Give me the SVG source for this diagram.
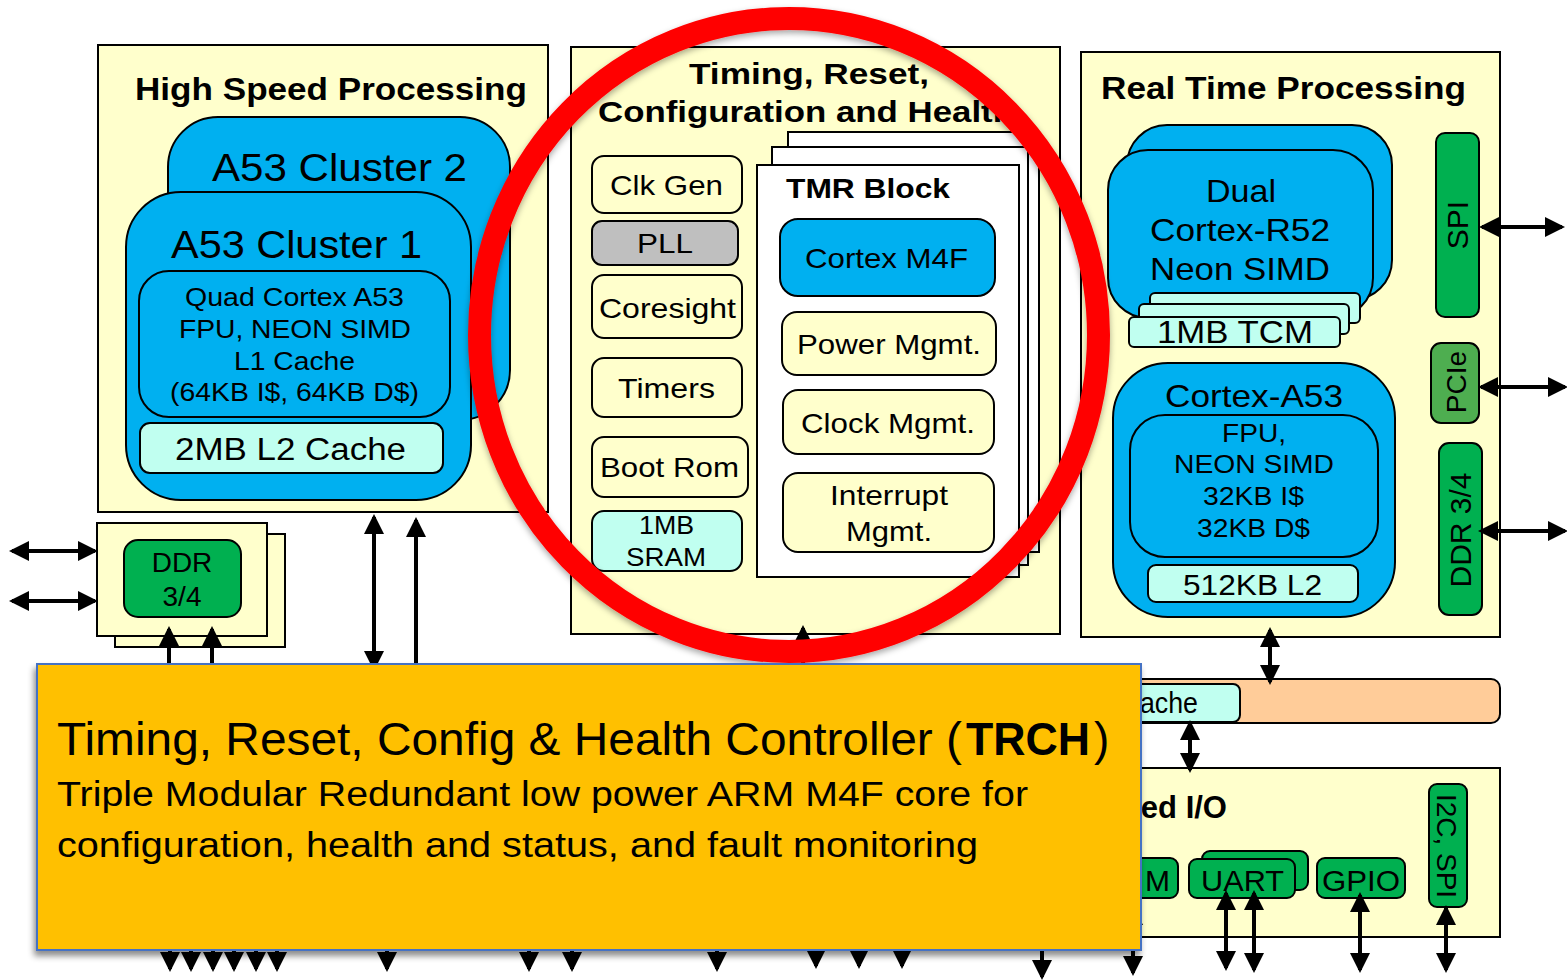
<svg xmlns="http://www.w3.org/2000/svg" width="1567" height="980" viewBox="0 0 1567 980">
<defs>
<style>
.yb{fill:#FFFFCC;stroke:#000;stroke-width:2}
.bl{fill:#00B0F0;stroke:#000;stroke-width:2}
.cy{fill:#C0FFF0;stroke:#000;stroke-width:2}
.gr{fill:#00B050;stroke:#000;stroke-width:2}
.lg{fill:#4EAE50;stroke:#000;stroke-width:2}
.gy{fill:#BFBFBF;stroke:#000;stroke-width:2}
.wt{fill:#FFFFFF;stroke:#000;stroke-width:2}
.pc{fill:#FFCC99;stroke:#000;stroke-width:2}
text{font-family:"Liberation Sans",Arial,sans-serif;fill:#000}
.b{font-weight:bold}
.cn{stroke:#000;stroke-width:4;fill:none}
</style>
<marker id="ah" viewBox="0 0 20 20" refX="17" refY="10" markerWidth="20" markerHeight="20" markerUnits="userSpaceOnUse" orient="auto-start-reverse">
<path d="M0,0 L20,10 L0,20 z" fill="#000"/>
</marker>
<filter id="sh" x="-10%" y="-10%" width="120%" height="125%">
<feDropShadow dx="-2" dy="5" stdDeviation="3" flood-color="#000" flood-opacity="0.45"/>
</filter>
<filter id="rs" x="-10%" y="-10%" width="120%" height="120%">
<feDropShadow dx="0" dy="3" stdDeviation="3" flood-color="#000" flood-opacity="0.35"/>
</filter>
</defs>
<rect width="1567" height="980" fill="#FFFFFF"/>

<!-- High Speed Processing -->
<g id="hsp">
<rect class="yb" x="98" y="45" width="450" height="467"/>
<text class="b" x="135" y="100" font-size="31" textLength="392" lengthAdjust="spacingAndGlyphs">High Speed Processing</text>
</g>
<g id="a53c2">
<rect class="bl" x="168" y="117" width="342" height="303" rx="50"/>
<text x="212" y="181" font-size="38" textLength="255" lengthAdjust="spacingAndGlyphs">A53 Cluster 2</text>
</g>
<g id="a53c1">
<rect class="bl" x="126" y="192" width="345" height="308" rx="55"/>
<text x="171" y="258" font-size="38" textLength="251" lengthAdjust="spacingAndGlyphs">A53 Cluster 1</text>
</g>
<g id="a53core">
<rect class="bl" x="139" y="271" width="311" height="146" rx="30"/>
<text x="185" y="306" font-size="25" textLength="219" lengthAdjust="spacingAndGlyphs">Quad Cortex A53</text>
<text x="179" y="338" font-size="25" textLength="232" lengthAdjust="spacingAndGlyphs">FPU, NEON SIMD</text>
<text x="234" y="370" font-size="25" textLength="121" lengthAdjust="spacingAndGlyphs">L1 Cache</text>
<text x="170" y="401" font-size="25" textLength="249" lengthAdjust="spacingAndGlyphs">(64KB I$, 64KB D$)</text>
</g>
<g id="l2cache">
<rect class="cy" x="140" y="423" width="303" height="50" rx="10"/>
<text x="175" y="460" font-size="31" textLength="231" lengthAdjust="spacingAndGlyphs">2MB L2 Cache</text>
</g>

<!-- DDR left -->
<g id="ddr-left">
<rect class="yb" x="115" y="534" width="170" height="113"/>
<rect class="yb" x="97" y="523" width="170" height="113"/>
<rect class="gr" x="124" y="540" width="117" height="77" rx="14"/>
<text x="182" y="572" font-size="28" text-anchor="middle">DDR</text>
<text x="182" y="606" font-size="28" text-anchor="middle">3/4</text>
</g>

<!-- Center TRCH block -->
<g id="trch-block">
<rect class="yb" x="571" y="47" width="489" height="587"/>
<text class="b" x="689" y="84" font-size="30" textLength="240" lengthAdjust="spacingAndGlyphs">Timing, Reset,</text>
<text class="b" x="598" y="122" font-size="30" textLength="416" lengthAdjust="spacingAndGlyphs">Configuration and Health</text>
</g>
<g id="clkgen">
<rect class="yb" x="592" y="156" width="150" height="57" rx="12"/>
<text x="610" y="195" font-size="28" textLength="113" lengthAdjust="spacingAndGlyphs">Clk Gen</text>
</g>
<g id="pll">
<rect class="gy" x="592" y="221" width="146" height="44" rx="10"/>
<text x="637" y="253" font-size="28" textLength="56" lengthAdjust="spacingAndGlyphs">PLL</text>
</g>
<g id="coresight">
<rect class="yb" x="592" y="275" width="150" height="63" rx="12"/>
<text x="599" y="318" font-size="28" textLength="137" lengthAdjust="spacingAndGlyphs">Coresight</text>
</g>
<g id="timers">
<rect class="yb" x="592" y="358" width="150" height="59" rx="12"/>
<text x="618" y="398" font-size="28" textLength="97" lengthAdjust="spacingAndGlyphs">Timers</text>
</g>
<g id="bootrom">
<rect class="yb" x="592" y="437" width="156" height="60" rx="12"/>
<text x="600" y="477" font-size="28" textLength="139" lengthAdjust="spacingAndGlyphs">Boot Rom</text>
</g>
<g id="sram">
<rect class="cy" x="592" y="511" width="150" height="60" rx="12"/>
<text x="639" y="534" font-size="25" textLength="55" lengthAdjust="spacingAndGlyphs">1MB</text>
<text x="626" y="566" font-size="25" textLength="80" lengthAdjust="spacingAndGlyphs">SRAM</text>
</g>
<g id="tmr">
<rect class="wt" x="788" y="132" width="251" height="420"/>
<rect class="wt" x="772" y="147" width="256" height="418"/>
<rect class="wt" x="757" y="165" width="262" height="412"/>
<text class="b" x="786" y="198" font-size="28" textLength="164" lengthAdjust="spacingAndGlyphs">TMR Block</text>
</g>
<g id="m4f">
<rect class="bl" x="780" y="219" width="215" height="77" rx="18"/>
<text x="805" y="268" font-size="28" textLength="163" lengthAdjust="spacingAndGlyphs">Cortex M4F</text>
</g>
<g id="power">
<rect class="yb" x="782" y="312" width="214" height="63" rx="15"/>
<text x="797" y="354" font-size="28" textLength="184" lengthAdjust="spacingAndGlyphs">Power Mgmt.</text>
</g>
<g id="clock">
<rect class="yb" x="783" y="390" width="211" height="64" rx="15"/>
<text x="801" y="433" font-size="28" textLength="174" lengthAdjust="spacingAndGlyphs">Clock Mgmt.</text>
</g>
<g id="interrupt">
<rect class="yb" x="783" y="473" width="211" height="79" rx="15"/>
<text x="830" y="505" font-size="28" textLength="118" lengthAdjust="spacingAndGlyphs">Interrupt</text>
<text x="846" y="541" font-size="28" textLength="86" lengthAdjust="spacingAndGlyphs">Mgmt.</text>
</g>

<!-- Real Time Processing -->
<g id="rtp">
<rect class="yb" x="1081" y="52" width="419" height="585"/>
<text class="b" x="1101" y="99" font-size="31" textLength="365" lengthAdjust="spacingAndGlyphs">Real Time Processing</text>
</g>
<g id="r52">
<rect class="bl" x="1127" y="125" width="265" height="175" rx="40"/>
<rect class="bl" x="1108" y="150" width="265" height="168" rx="40"/>
<text x="1206" y="202" font-size="32" textLength="70" lengthAdjust="spacingAndGlyphs">Dual</text>
<text x="1150" y="241" font-size="32" textLength="180" lengthAdjust="spacingAndGlyphs">Cortex-R52</text>
<text x="1150" y="280" font-size="32" textLength="180" lengthAdjust="spacingAndGlyphs">Neon SIMD</text>
</g>
<g id="tcm">
<rect class="cy" x="1150" y="293" width="210" height="30" rx="5"/>
<rect class="cy" x="1139" y="304" width="210" height="30" rx="5"/>
<rect class="cy" x="1129" y="317" width="211" height="30" rx="5"/>
<text x="1157" y="343" font-size="32" textLength="156" lengthAdjust="spacingAndGlyphs">1MB TCM</text>
</g>
<g id="spi">
<rect class="gr" x="1436" y="133" width="43" height="184" rx="9"/>
<text transform="translate(1468,225) rotate(-90)" font-size="30" text-anchor="middle">SPI</text>
</g>
<g id="pcie">
<rect class="lg" x="1431" y="343" width="48" height="80" rx="10"/>
<text transform="translate(1466,382) rotate(-90)" font-size="28" text-anchor="middle">PCIe</text>
</g>
<g id="ddr-right">
<rect class="gr" x="1439" y="443" width="43" height="172" rx="10"/>
<text transform="translate(1471,530) rotate(-90)" font-size="30" text-anchor="middle">DDR 3/4</text>
</g>
<g id="a53r">
<rect class="bl" x="1113" y="363" width="282" height="254" rx="55"/>
<text x="1165" y="407" font-size="32" textLength="178" lengthAdjust="spacingAndGlyphs">Cortex-A53</text>
</g>
<g id="a53r-core">
<rect class="bl" x="1130" y="415" width="248" height="142" rx="35"/>
<text x="1222" y="442" font-size="26" textLength="64" lengthAdjust="spacingAndGlyphs">FPU,</text>
<text x="1174" y="473" font-size="26" textLength="160" lengthAdjust="spacingAndGlyphs">NEON SIMD</text>
<text x="1203" y="505" font-size="26" textLength="101" lengthAdjust="spacingAndGlyphs">32KB I$</text>
<text x="1197" y="537" font-size="26" textLength="113" lengthAdjust="spacingAndGlyphs">32KB D$</text>
</g>
<g id="l2r">
<rect class="cy" x="1148" y="565" width="210" height="37" rx="8"/>
<text x="1183" y="595" font-size="30" textLength="139" lengthAdjust="spacingAndGlyphs">512KB L2</text>
</g>

<!-- Interconnect / cache bar -->
<g id="bus">
<rect class="pc" x="1090" y="679" width="410" height="44" rx="9"/>
</g>
<g id="cache">
<rect class="cy" x="1090" y="684" width="150" height="38" rx="7"/>
<text x="1140" y="713" font-size="29" textLength="58" lengthAdjust="spacingAndGlyphs">ache</text>
</g>

<!-- I/O box -->
<g id="io">
<rect class="yb" x="1090" y="768" width="410" height="169"/>
<text class="b" x="1227" y="818" font-size="31" text-anchor="end">ed I/O</text>
</g>
<g id="m-box">
<rect class="gr" x="1090" y="858" width="88" height="40" rx="8"/>
<text x="1170" y="891" font-size="30" text-anchor="end">M</text>
</g>
<g id="uart">
<rect class="gr" x="1202" y="851" width="106" height="39" rx="8"/>
<rect class="gr" x="1189" y="859" width="106" height="39" rx="8"/>
<text x="1201" y="891" font-size="30" textLength="83" lengthAdjust="spacingAndGlyphs">UART</text>
</g>
<g id="gpio">
<rect class="gr" x="1317" y="858" width="88" height="40" rx="8"/>
<text x="1322" y="891" font-size="30" textLength="78" lengthAdjust="spacingAndGlyphs">GPIO</text>
</g>
<g id="i2c">
<rect class="gr" x="1429" y="784" width="38" height="123" rx="8"/>
<text transform="translate(1437,846) rotate(90)" font-size="28" text-anchor="middle">I2C, SPI</text>
</g>

<!-- Connectors -->
<g id="connectors">
<line class="cn" x1="12" y1="551" x2="95" y2="551" marker-start="url(#ah)" marker-end="url(#ah)"/>
<line class="cn" x1="12" y1="601" x2="95" y2="601" marker-start="url(#ah)" marker-end="url(#ah)"/>
<line class="cn" x1="169" y1="700" x2="169" y2="629" marker-end="url(#ah)"/>
<line class="cn" x1="212" y1="700" x2="212" y2="629" marker-end="url(#ah)"/>
<line class="cn" x1="374" y1="517" x2="374" y2="668" marker-start="url(#ah)" marker-end="url(#ah)"/>
<line class="cn" x1="416" y1="700" x2="416" y2="520" marker-end="url(#ah)"/>
<line class="cn" x1="803" y1="700" x2="803" y2="628" marker-end="url(#ah)"/>
<line class="cn" x1="1482" y1="227" x2="1562" y2="227" marker-start="url(#ah)" marker-end="url(#ah)"/>
<line class="cn" x1="1481" y1="387" x2="1565" y2="387" marker-start="url(#ah)" marker-end="url(#ah)"/>
<line class="cn" x1="1481" y1="531" x2="1565" y2="531" marker-start="url(#ah)" marker-end="url(#ah)"/>
<line class="cn" x1="1270" y1="630" x2="1270" y2="682" marker-start="url(#ah)" marker-end="url(#ah)"/>
<line class="cn" x1="1190" y1="723" x2="1190" y2="770" marker-start="url(#ah)" marker-end="url(#ah)"/>
<line class="cn" x1="1226" y1="893" x2="1226" y2="968" marker-start="url(#ah)" marker-end="url(#ah)"/>
<line class="cn" x1="1254" y1="893" x2="1254" y2="970" marker-start="url(#ah)" marker-end="url(#ah)"/>
<line class="cn" x1="1360" y1="895" x2="1360" y2="970" marker-start="url(#ah)" marker-end="url(#ah)"/>
<line class="cn" x1="1446" y1="908" x2="1446" y2="970" marker-start="url(#ah)" marker-end="url(#ah)"/>
<line class="cn" x1="170" y1="930" x2="170" y2="969" marker-end="url(#ah)"/>
<line class="cn" x1="191" y1="930" x2="191" y2="969" marker-end="url(#ah)"/>
<line class="cn" x1="213" y1="930" x2="213" y2="969" marker-end="url(#ah)"/>
<line class="cn" x1="234" y1="930" x2="234" y2="969" marker-end="url(#ah)"/>
<line class="cn" x1="256" y1="930" x2="256" y2="969" marker-end="url(#ah)"/>
<line class="cn" x1="277" y1="930" x2="277" y2="969" marker-end="url(#ah)"/>
<line class="cn" x1="387" y1="930" x2="387" y2="969" marker-end="url(#ah)"/>
<line class="cn" x1="529" y1="930" x2="529" y2="969" marker-end="url(#ah)"/>
<line class="cn" x1="572" y1="930" x2="572" y2="969" marker-end="url(#ah)"/>
<line class="cn" x1="717" y1="930" x2="717" y2="969" marker-end="url(#ah)"/>
<line class="cn" x1="816" y1="930" x2="816" y2="966" marker-end="url(#ah)"/>
<line class="cn" x1="859" y1="930" x2="859" y2="966" marker-end="url(#ah)"/>
<line class="cn" x1="902" y1="930" x2="902" y2="966" marker-end="url(#ah)"/>
<line class="cn" x1="1042" y1="930" x2="1042" y2="977" marker-end="url(#ah)"/>
<line class="cn" x1="1133" y1="908" x2="1133" y2="973" marker-start="url(#ah)" marker-end="url(#ah)"/>
</g>

<!-- Red highlight ring -->
<g id="highlight">
<ellipse cx="789" cy="335" rx="309.5" ry="316.5" fill="none" stroke="#FF0000" stroke-width="23" filter="url(#rs)"/>
</g>

<!-- TRCH callout -->
<g id="callout">
<rect x="37" y="664" width="1104" height="286" fill="#FFC000" stroke="#4472C4" stroke-width="2" filter="url(#sh)"/>
<text x="57" y="755" font-size="46" font-family="'Liberation Sans Narrow','DejaVu Sans Condensed','Liberation Sans',sans-serif" textLength="905" lengthAdjust="spacingAndGlyphs">Timing, Reset, Config &amp; Health Controller (</text>
<text x="966" y="755" font-size="46" font-weight="bold" font-family="'Liberation Sans Narrow','DejaVu Sans Condensed','Liberation Sans',sans-serif" textLength="124" lengthAdjust="spacingAndGlyphs">TRCH</text>
<text x="1094" y="755" font-size="46" font-family="'Liberation Sans Narrow','DejaVu Sans Condensed','Liberation Sans',sans-serif">)</text>
<text x="57" y="806" font-size="35" font-family="Lato,'Open Sans',sans-serif" textLength="971" lengthAdjust="spacingAndGlyphs">Triple Modular Redundant low power ARM M4F core for</text>
<text x="57" y="857" font-size="35" font-family="Lato,'Open Sans',sans-serif" textLength="921" lengthAdjust="spacingAndGlyphs">configuration, health and status, and fault monitoring</text>
</g>
</svg>
